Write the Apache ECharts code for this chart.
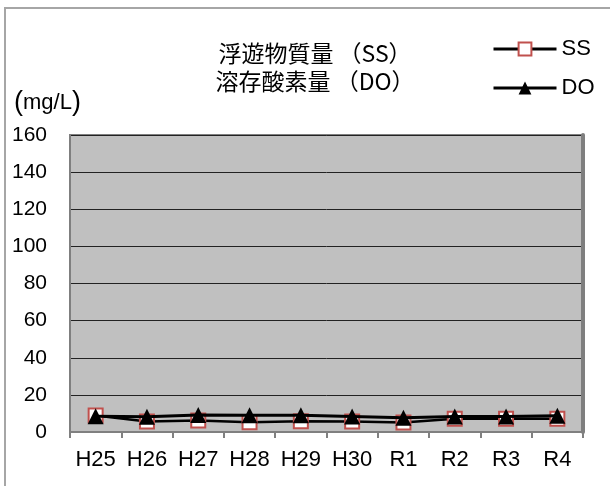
<!DOCTYPE html>
<html>
<head>
<meta charset="utf-8">
<script src="https://cdn.jsdelivr.net/npm/echarts@6/dist/echarts.min.js"></script>
<style>html,body{margin:0;padding:0;background:#fff}#c{width:610px;height:486px}</style>
</head>
<body>
<div id="c"></div>
<script>
const categories = ['H25','H26','H27','H28','H29','H30','R1','R2','R3','R4'];
const ssValues = [8.9, 5.6, 6.2, 5.3, 5.8, 5.6, 5.1, 7.1, 7.1, 7.1];
const doValues = [8.5, 8.2, 9.1, 9.0, 9.0, 8.4, 7.7, 8.4, 8.4, 8.7];
const titleLines = ['浮遊物質量 （SS）', '溶存酸素量 （DO）'];
const unitLabel = '(mg/L)';
const yMin = 0, yMax = 160, yStep = 20;

const FONT = "'Liberation Sans', 'Noto Sans CJK JP', sans-serif";
const chart = echarts.init(document.getElementById('c'), null, {renderer: 'canvas'});
chart.setOption({
  animation: false,
  backgroundColor: '#fff',
  textStyle: {fontFamily: FONT, color: '#000'},
  title: {
    text: titleLines.join('\n'),
    left: 310, top: 34, textAlign: 'center',
    textStyle: {fontSize: 23, fontWeight: 'normal', color: '#000', lineHeight: 28, fontFamily: "'Noto Sans CJK JP', sans-serif"}
  },
  legend: {
    orient: 'vertical', left: 487, top: 33,
    itemWidth: 63, itemHeight: 16, itemGap: 17,
    lineStyle: {width: 3, color: '#000'},
    textStyle: {fontSize: 22, color: '#000'},
    data: ['SS','DO']
  },
  graphic: [
    {type: 'rect', z: -10, silent: true, shape: {x: 5, y: 8, width: 700, height: 600},
     style: {fill: null, stroke: '#A6A6A6', lineWidth: 2}},
    {type: 'text', left: 14, top: 89, style: {
      text: '{p|(}{u|mg/L}{p|)}',
      rich: {p: {fontSize: 27, fontFamily: FONT, fill: '#000'}, u: {fontSize: 22, fontFamily: FONT, fill: '#000'}}
    }}
  ],
  grid: {left: 70, right: 27, top: 135, bottom: 54, show: true, backgroundColor: '#C0C0C0', borderColor: '#7F7F7F', borderWidth: 2, containLabel: false},
  xAxis: {
    type: 'category', data: categories, boundaryGap: true,
    axisLine: {lineStyle: {color: '#808080', width: 2}},
    axisTick: {show: true, length: 6, lineStyle: {color: '#808080', width: 2}},
    axisLabel: {fontSize: 22, color: '#000', margin: 17, interval: 0}
  },
  yAxis: [{
    type: 'value', min: yMin, max: yMax, interval: yStep,
    axisLine: {show: true, lineStyle: {color: '#7F7F7F', width: 2}},
    axisTick: {show: false},
    axisLabel: {fontSize: 21, color: '#000', margin: 23},
    splitLine: {lineStyle: {color: '#222', width: 1}}
  }, {
    type: 'value', min: yMin, max: yMax, interval: yStep, position: 'right',
    axisLine: {show: true, lineStyle: {color: '#7F7F7F', width: 4}},
    axisTick: {show: false}, axisLabel: {show: false}, splitLine: {show: false}
  }],
  series: [
    {name: 'SS', type: 'line', data: ssValues, symbol: 'rect', symbolSize: 14,
     itemStyle: {color: '#fff', borderColor: '#C0504D', borderWidth: 2},
     lineStyle: {color: '#000', width: 2.5}, z: 3},
    {name: 'DO', type: 'line', data: doValues, symbol: 'triangle', symbolSize: 16,
     itemStyle: {color: '#000'},
     lineStyle: {color: '#000', width: 3}, z: 4}
  ]
});
</script>
</body>
</html>
